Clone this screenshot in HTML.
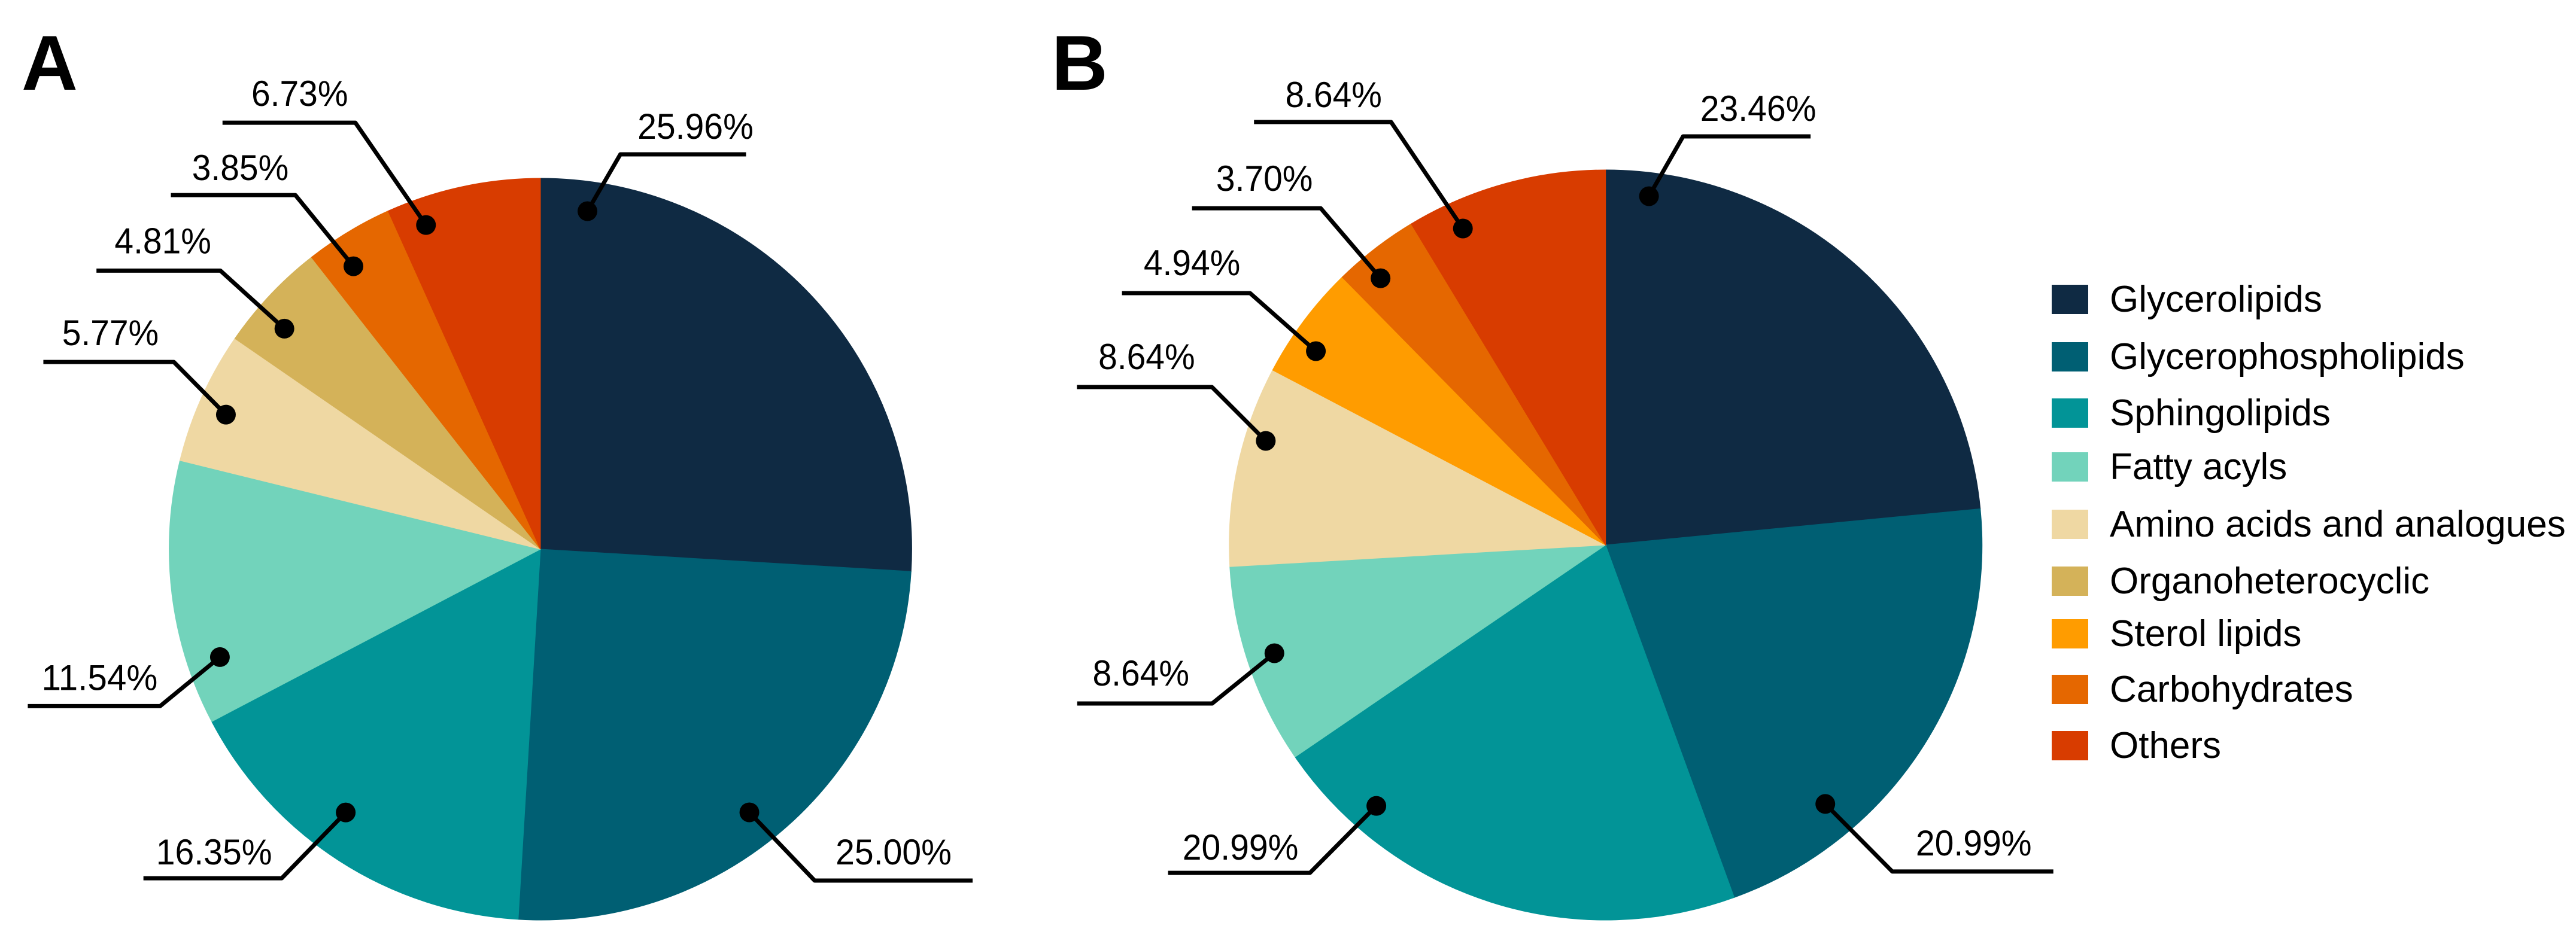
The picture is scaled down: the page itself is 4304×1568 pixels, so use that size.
<!DOCTYPE html>
<html lang="en">
<head>
<meta charset="utf-8">
<title>Lipid class composition pie charts</title>
<style>
  html, body { margin: 0; padding: 0; background: #ffffff; }
  svg { display: block; }
  text { font-family: "Liberation Sans", Arial, sans-serif; fill: #000000; }
</style>
</head>
<body>
<svg id="chart" xmlns="http://www.w3.org/2000/svg" width="4304" height="1568" viewBox="0 0 4304 1568">
  <rect x="0" y="0" width="4304" height="1568" fill="#ffffff"/>
  <text x="36" y="150" font-size="130" font-weight="700">A</text>
  <text x="1757" y="150" font-size="130" font-weight="700">B</text>
</svg>
<script>
// ---- chart data ----
const categories = ["Glycerolipids", "Glycerophospholipids", "Sphingolipids", "Fatty acyls", "Amino acids and analogues", "Organoheterocyclic", "Sterol lipids", "Carbohydrates", "Others"];
const valuesA = [25.96, 25.00, 16.35, 11.54, 5.77, 4.81, 0, 3.85, 6.73];
const valuesB = [23.46, 20.99, 20.99, 8.64, 8.64, 0, 4.94, 3.70, 8.64];

// ---- styling and layout (not data) ----
const colors = ["#0f2a43", "#005f73", "#029497", "#72d3bb", "#efd8a3", "#d4b259", "#ff9c00", "#e56700", "#d83c00"];
const legendTops = [476, 572, 666, 756, 852, 947, 1035, 1128, 1222];
const frameA = { cx: 903, cy: 918, rx: 620.4, ry: 620 };
const frameB = { cx: 2682.7, cy: 911, rx: 629, ry: 627 };
// Callout: share along the slice, radial share, elbow offset, run length, label offset.
const calloutsA = [
  { t: 0.0846, rf: 0.920, dx: 55, dy: -95, run: 210, lx: 125.5, ly: -26 },
  { t: 0.535, rf: 0.9056, dx: 109, dy: 114, run: 264, lx: 132, ly: -27 },
  { t: 0.561, rf: 0.8826, dx: -107, dy: 110, run: -231, lx: -113, ly: -23 },
  { t: 0.2186, rf: 0.911, dx: -100, dy: 82, run: -221, lx: -101, ly: -27 },
  { t: 0.45, rf: 0.9215, dx: -87, dy: -88, run: -218, lx: -106, ly: -28 },
  { t: 0.356, rf: 0.9105, dx: -107, dy: -97, run: -207, lx: -96, ly: -29 },
  null,
  { t: 0.335, rf: 0.914, dx: -97, dy: -119, run: -208, lx: -92, ly: -25 },
  { t: 0.198, rf: 0.9267, dx: -118, dy: -171, run: -222, lx: -93, ly: -28 }
];
const calloutsB = [
  { t: 0.0836, rf: 0.937, dx: 57, dy: -100, run: 213, lx: 125.5, ly: -26 },
  { t: 0.7324, rf: 0.904, dx: 112, dy: 113, run: 269, lx: 136, ly: -27 },
  { t: 0.8097, rf: 0.9246, dx: -111, dy: 112, run: -237, lx: -116, ly: -22 },
  { t: 0.5226, rf: 0.926, dx: -104, dy: 84, run: -225.5, lx: -119, ly: -30 },
  { t: 0.656, rf: 0.9445, dx: -90, dy: -90, run: -225.5, lx: -109, ly: -30 },
  null,
  { t: 0.342, rf: 0.927, dx: -110, dy: -97, run: -214, lx: -97, ly: -30 },
  { t: 0.328, rf: 0.929, dx: -100, dy: -117, run: -215, lx: -94, ly: -29 },
  { t: 0.222, rf: 0.925, dx: -120, dy: -178, run: -229, lx: -96, ly: -25 }
];

const NS = "http://www.w3.org/2000/svg";
const svg = document.getElementById("chart");

function make(tag, attrs) {
  const el = document.createElementNS(NS, tag);
  for (const k in attrs) el.setAttribute(k, attrs[k]);
  return el;
}

function polar(frame, deg, share) {
  const a = deg * Math.PI / 180;
  return {
    x: frame.cx + frame.rx * share * Math.sin(a),
    y: frame.cy - frame.ry * share * Math.cos(a)
  };
}

function slug(s) {
  return s.toLowerCase().replace(/[^a-z0-9]+/g, "-");
}

function drawPie(panel, values, frame, callouts) {
  const group = make("g", {});
  
  
  svg.appendChild(group);

  const total = values.reduce(function (s, v) { return s + v; }, 0);
  const spans = [];
  let angle = 0;
  values.forEach(function (v, i) {
    const sweep = v / total * 360;
    spans.push({ start: angle, sweep: sweep });
    if (v > 0) {
      const p0 = polar(frame, angle, 1);
      const p1 = polar(frame, angle + sweep, 1);
      const large = sweep > 180 ? 1 : 0;
      const slice = make("path", {
        d: "M" + frame.cx + " " + frame.cy + "L" + p0.x + " " + p0.y +
           "A" + frame.rx + " " + frame.ry + " 0 " + large + " 1 " + p1.x + " " + p1.y + "Z",
        fill: colors[i],
        stroke: colors[i],
        "stroke-width": 1
      });
      
      
      group.appendChild(slice);
    }
    angle += sweep;
  });

  values.forEach(function (v, i) {
    const c = callouts[i];
    if (!(v > 0) || !c) return;
    const dot = polar(frame, spans[i].start + c.t * spans[i].sweep, c.rf);
    const ex = dot.x + c.dx;
    const ey = dot.y + c.dy;

    const leader = make("polyline", {
      points: dot.x + "," + dot.y + " " + ex + "," + ey + " " + (ex + c.run) + "," + ey,
      fill: "none",
      stroke: "#000000",
      "stroke-width": 7,
      "stroke-linejoin": "round"
    });
    
    
    group.appendChild(leader);

    const marker = make("circle", { cx: dot.x, cy: dot.y, r: 16.5, fill: "#000000" });
    
    
    group.appendChild(marker);

    const str = v.toFixed(2) + "%";
    const label = make("text", {
      x: ex + c.lx,
      y: ey + c.ly,
      "font-size": 60,
      "text-anchor": "middle",
      textLength: str.length * 32.3,
      lengthAdjust: "spacingAndGlyphs"
    });
    
    
    label.textContent = str;
    group.appendChild(label);
  });
}

function drawLegend() {
  const legend = make("g", {});
  
  
  svg.appendChild(legend);
  categories.forEach(function (name, i) {
    const swatch = make("rect", { x: 3428, y: legendTops[i], width: 61, height: 49, fill: colors[i] });
    
    
    legend.appendChild(swatch);

    const text = make("text", { x: 3525, y: legendTops[i] + 45, "font-size": 62 });
    
    
    text.textContent = name;
    legend.appendChild(text);
  });
}

drawPie("a", valuesA, frameA, calloutsA);
drawPie("b", valuesB, frameB, calloutsB);
drawLegend();
</script>
</body>
</html>
